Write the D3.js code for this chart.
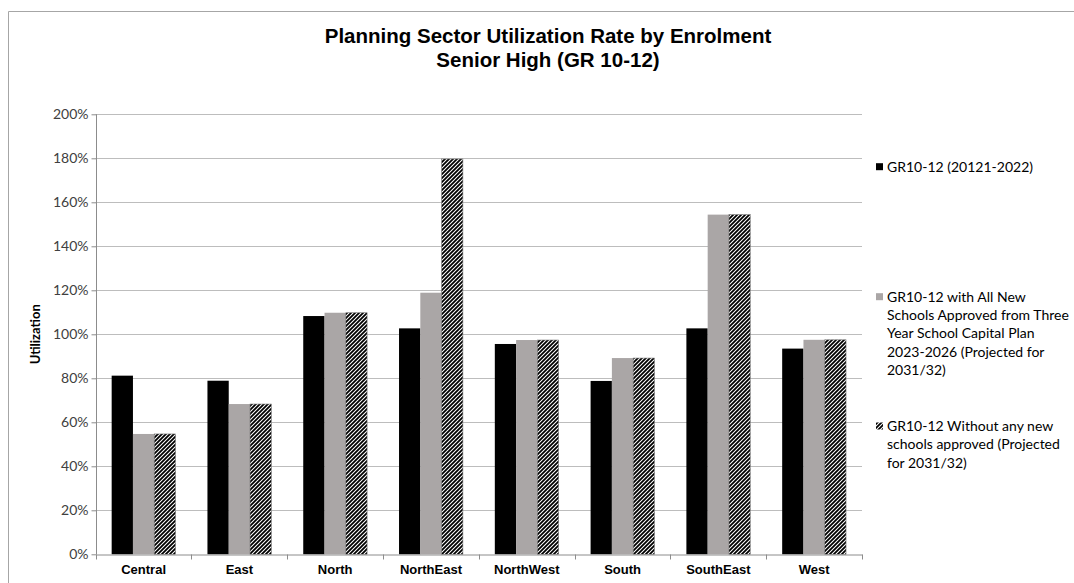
<!DOCTYPE html>
<html>
<head>
<meta charset="utf-8">
<script src="https://cdn.jsdelivr.net/npm/d3@7"></script>
<style>
  html, body { margin: 0; padding: 0; background: #fff; }
  svg { display: block; }
</style>
</head>
<body>
<svg id="chart" width="1074" height="583"></svg>
<script>
// Planning sectors along the x axis
const sectors = ["Central", "East", "North", "NorthEast", "NorthWest", "South", "SouthEast", "West"];

// Utilization rates (fraction of capacity)
const current2122   = [0.812, 0.789, 1.083, 1.027, 0.956, 0.788, 1.027, 0.935];
const withApproved  = [0.547, 0.683, 1.098, 1.189, 0.974, 0.892, 1.544, 0.975];
const withoutNew    = [0.547, 0.683, 1.098, 1.797, 0.974, 0.892, 1.544, 0.975];

// Legend text, one entry per series, already split into lines
const legendLines = [
  ["GR10-12 (20121-2022)"],
  ["GR10-12 with All New", "Schools Approved from Three", "Year School Capital Plan", "2023-2026 (Projected for", "2031/32)"],
  ["GR10-12 Without any new", "schools approved (Projected", "for 2031/32)"]
];

const yTicks = [0, 0.2, 0.4, 0.6, 0.8, 1.0, 1.2, 1.4, 1.6, 1.8, 2.0];
const titleLines = ["Planning Sector Utilization Rate by Enrolment", "Senior High (GR 10-12)"];
const yTitle = "Utilization";

const svg = d3.select("#chart");

// Diagonal hatch for the "without new schools" series
const defs = svg.append("defs");
const pat = defs.append("pattern")
  .attr("id", "hatch")
  .attr("patternUnits", "userSpaceOnUse")
  .attr("width", 4).attr("height", 4);
pat.append("rect").attr("width", 4).attr("height", 4).attr("fill", "#fff");
pat.append("path")
  .attr("d", "M-1,1 L1,-1 M0,4 L4,0 M3,5 L5,3")
  .attr("stroke", "#000").attr("stroke-width", 1.8);

// Outer chart frame (top and left edges visible)
svg.append("path")
  .attr("d", "M8.5,583 L8.5,11.5 L1074,11.5")
  .attr("fill", "none").attr("stroke", "#a6a6a6").attr("stroke-width", 1);

const plot = { left: 95.7, right: 862, top: 114.3, bottom: 554.3 };

const x = d3.scaleBand().domain(sectors).range([plot.left, plot.right]).paddingInner(0).paddingOuter(0);
const y = d3.scaleLinear().domain([0, 2]).range([plot.bottom, plot.top]);

const series = [
  { name: legendLines[0], values: current2122,  fill: "#000000" },
  { name: legendLines[1], values: withApproved, fill: "#aaa6a6" },
  { name: legendLines[2], values: withoutNew,   fill: "url(#hatch)" }
];

// Gridlines
svg.append("g")
  .selectAll("line")
  .data(yTicks.filter(d => d > 0))
  .join("line")
  .attr("x1", plot.left).attr("x2", plot.right)
  .attr("y1", d => Math.round(y(d)) + 0.5).attr("y2", d => Math.round(y(d)) + 0.5)
  .attr("stroke", "#bdbdbd").attr("stroke-width", 1);

// Y axis
const yAxis = svg.append("g")
  .attr("transform", `translate(${Math.round(plot.left) + 0.5},0)`)
  .call(d3.axisLeft(y).tickValues(yTicks).tickFormat(d3.format(".0%")).tickSize(5).tickPadding(3));
yAxis.select(".domain").attr("stroke", "#8c8c8c").attr("d", `M-0,${plot.top}V${plot.bottom}`);
yAxis.selectAll(".tick line").attr("stroke", "#8c8c8c");
yAxis.selectAll(".tick text")
  .attr("font-family", "Lato, 'Open Sans', sans-serif")
  .attr("font-size", 14).attr("fill", "#404040");

// Y axis title
svg.append("text")
  .attr("transform", `translate(40,${(plot.top + plot.bottom) / 2}) rotate(-90)`)
  .attr("text-anchor", "middle")
  .attr("font-family", "Lato, 'Open Sans', sans-serif")
  .attr("font-weight", "bold").attr("font-size", 13)
  .attr("fill", "#000")
  .text(yTitle);

// Bars
const inner = d3.scaleBand().domain(d3.range(series.length))
  .range([0, x.bandwidth()]).paddingInner(0).paddingOuter(0.75);
series.forEach((s, si) => {
  svg.append("g")
    .selectAll("rect")
    .data(s.values)
    .join("rect")
    .attr("x", (d, i) => x(sectors[i]) + inner(si))
    .attr("width", inner.bandwidth())
    .attr("y", d => y(d))
    .attr("height", d => y(0) - y(d))
    .attr("fill", s.fill)
    .attr("stroke", si === 2 ? "#7a7a7a" : "none")
    .attr("stroke-width", si === 2 ? 0.6 : 0);
});

// X axis
const xAxis = svg.append("g")
  .attr("transform", `translate(0,${Math.round(plot.bottom) + 0.5})`)
  .call(d3.axisBottom(x).tickSize(0).tickPadding(10));
xAxis.select(".domain").attr("stroke", "#8c8c8c");
xAxis.selectAll(".tick text")
  .attr("font-family", "'Liberation Sans', Arial, sans-serif")
  .attr("font-weight", "bold").attr("font-size", 13).attr("fill", "#000");
// Category boundary ticks
xAxis.append("g")
  .selectAll("line")
  .data(sectors.map(s => x(s)).concat([plot.right]))
  .join("line")
  .attr("x1", d => Math.round(d) + 0.5).attr("x2", d => Math.round(d) + 0.5)
  .attr("y1", 0).attr("y2", 5)
  .attr("stroke", "#8c8c8c");

// Title
svg.append("g")
  .selectAll("text")
  .data(titleLines)
  .join("text")
  .attr("x", 548).attr("y", (d, i) => 43 + i * 24)
  .attr("text-anchor", "middle")
  .attr("font-family", "'Liberation Sans', Arial, sans-serif")
  .attr("font-weight", "bold").attr("font-size", 20.5)
  .attr("fill", "#000")
  .text(d => d);

// Legend
const legendTop = [166.7, 296.7, 426];
const lineH = 18.3;
series.forEach((s, si) => {
  const g = svg.append("g");
  g.append("rect")
    .attr("x", 876).attr("y", legendTop[si] - 3.5)
    .attr("width", 7).attr("height", 7)
    .attr("fill", s.fill);
  g.selectAll("text")
    .data(s.name)
    .join("text")
    .attr("x", 887)
    .attr("y", (d, i) => legendTop[si] + i * lineH)
    .attr("dy", "0.35em")
    .attr("font-family", "Lato, 'Open Sans', sans-serif")
    .attr("font-size", 14).attr("fill", "#000")
    .text(d => d);
});
</script>
</body>
</html>
